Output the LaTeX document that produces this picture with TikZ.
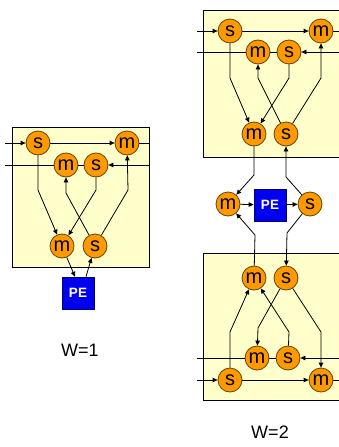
\documentclass[tikz,border=0pt]{standalone}
\usepackage{fontspec}
\setmainfont{Liberation Sans}
\usetikzlibrary{arrows.meta}
\definecolor{orng}{HTML}{FF9900}
\definecolor{orngdark}{HTML}{6B4000}
\definecolor{boxyel}{HTML}{FFFFCC}
\definecolor{peblue}{HTML}{0000F0}
\tikzset{
  nd/.style={circle,fill=orng,draw=orngdark,line width=0.8pt,minimum size=24pt,inner sep=0pt,font=\fontsize{20}{20}\selectfont},
  pebox/.style={rectangle,fill=peblue,draw=black!60!blue,line width=0.6pt,minimum size=32pt,inner sep=0pt,text=white,font=\fontsize{13.5}{13.5}\selectfont\bfseries},
  panel/.style={fill=boxyel,draw=black,line width=1pt},
  ln/.style={line width=0.8pt,draw=black},
  arr/.style={ln,-{Triangle[length=5pt,width=4.5pt]}},
  lbl/.style={font=\fontsize{18}{18}\selectfont,inner sep=0pt}
}
\begin{document}
\begin{tikzpicture}[x=1pt,y=-1pt]
\useasboundingbox (0,0) rectangle (338,447);
% panels
\draw[panel] (12,127) rectangle (149,267);
\draw[panel] (203,10) rectangle (341,157);
\draw[panel] (203,253) rectangle (341,400);

% ===== W=1 =====
\node[nd] (as1) at (38,143) {s};
\node[nd] (am1) at (127,143) {m};
\node[nd] (am2) at (66,165) {m};
\node[nd] (as2) at (96,165) {s};
\node[nd] (am3) at (62,246) {m};
\node[nd] (as3) at (95,246) {s};
\node[pebox] (ape) at (78,293) {PE};
\node[lbl] (aw) at (80,350) {W=1};
\coordinate (aL1) at (5,143);
\coordinate (aR1) at (149,143);
\coordinate (aL2) at (5,165);
\coordinate (aR2) at (149,165);
\coordinate (ab1) at (38,190);
\coordinate (ab2) at (96,190);
\coordinate (ab3) at (66,193);
\coordinate (ab4) at (128,190);
\draw[arr] (aL1) -- (as1);
\draw[arr] (as1) -- (am1);
\draw[ln] (am1) -- (aR1);
\draw[ln] (aL2) -- (am2);
\draw[ln] (am2) -- (as2);
\draw[arr] (aR2) -- (as2);
\draw[arr] (as1) -- (ab1) -- (am3);
\draw[arr] (as2) -- (ab2) -- (am3);
\draw[arr] (as3) -- (ab3) -- (am2);
\draw[arr] (as3) -- (ab4) -- (am1);
\draw[arr] (am3) -- ([xshift=-3pt]ape.north);
\draw[arr] ([xshift=8pt]ape.north) -- (as3);

% ===== W=2 top panel =====
\node[nd] (bs1) at (230,31) {s};
\node[nd] (bm1) at (321,31) {m};
\node[nd] (bm2) at (258,52) {m};
\node[nd] (bs2) at (289,52) {s};
\node[nd] (bm3) at (254,134) {m};
\node[nd] (bs3) at (286,134) {s};
\coordinate (bL1) at (197,31);
\coordinate (bR1) at (341,31);
\coordinate (bL2) at (197,52);
\coordinate (bR2) at (341,52);
\coordinate (bb1) at (230,78);
\coordinate (bb2) at (289,78);
\coordinate (bb3) at (258,78);
\coordinate (bb4) at (321,78);
\draw[arr] (bL1) -- (bs1);
\draw[arr] (bs1) -- (bm1);
\draw[ln] (bm1) -- (bR1);
\draw[ln] (bL2) -- (bm2);
\draw[ln] (bm2) -- (bs2);
\draw[arr] (bR2) -- (bs2);
\draw[arr] (bs1) -- (bb1) -- (bm3);
\draw[arr] (bs2) -- (bb2) -- (bm3);
\draw[arr] (bs3) -- (bb3) -- (bm2);
\draw[arr] (bs3) -- (bb4) -- (bm1);

% ===== W=2 middle =====
\node[nd] (cm) at (228,204) {m};
\node[pebox] (cpe) at (270,205) {PE};
\node[nd] (cs) at (310,204) {s};

% ===== W=2 bottom panel =====
\node[nd] (dm1) at (254,278) {m};
\node[nd] (ds1) at (286,278) {s};
\node[nd] (dm2) at (257,358) {m};
\node[nd] (ds2) at (288,358) {s};
\node[nd] (ds3) at (230,380) {s};
\node[nd] (dm3) at (321,380) {m};
\node[lbl] (bw) at (270,432) {W=2};
\coordinate (dL2) at (197,358);
\coordinate (dR2) at (341,358);
\coordinate (dL1) at (197,380);
\coordinate (dR1) at (341,380);
\coordinate (db1) at (230,332);
\coordinate (db2) at (289,332);
\coordinate (db3) at (258,328);
\coordinate (db4) at (321,332);
\draw[ln] (dL2) -- (dm2);
\draw[ln] (dm2) -- (ds2);
\draw[arr] (dR2) -- (ds2);
\draw[arr] (dL1) -- (ds3);
\draw[arr] (ds3) -- (dm3);
\draw[ln] (dm3) -- (dR1);
\draw[arr] (ds3) -- (db1) -- (dm1);
\draw[arr] (ds2) -- (db2) -- (dm1);
\draw[arr] (ds1) -- (db3) -- (dm2);
\draw[arr] (ds1) -- (db4) -- (dm3);

% connections middle
\coordinate (cb1) at (254,175);
\coordinate (cb2) at (286,177);
\coordinate (cb3) at (287,233);
\coordinate (cb4) at (255,235);
\draw[arr] (bm3) -- (cb1) -- (cm);
\draw[arr] (cs) -- (cb2) -- (bs3);
\draw[arr] (cs) -- (cb3) -- (ds1);
\draw[arr] (dm1) -- (cb4) -- (cm);
\draw[arr] (cm) -- (cpe);
\draw[arr] (cpe) -- (cs);
\end{tikzpicture}
\end{document}
